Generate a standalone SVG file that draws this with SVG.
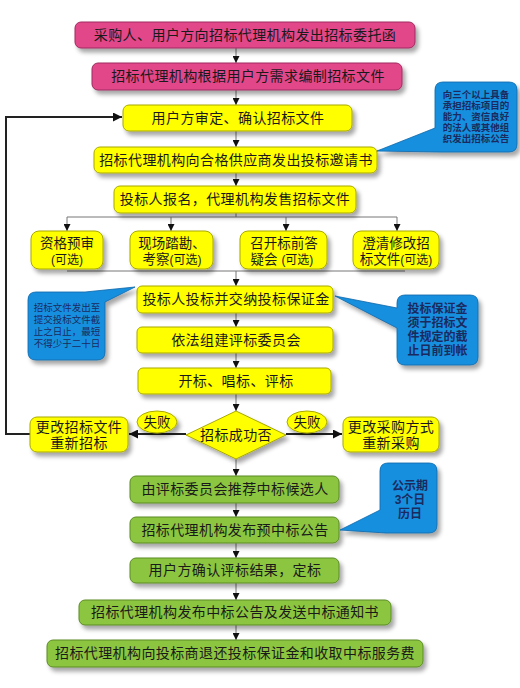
<svg xmlns="http://www.w3.org/2000/svg" width="520" height="688" viewBox="0 0 520 688">
<defs>
<filter id="sh" x="-10%" y="-20%" width="130%" height="160%">
<feDropShadow dx="3" dy="4" stdDeviation="2" flood-color="#000" flood-opacity="0.35"/>
</filter>
<marker id="ah" viewBox="0 0 8 8" refX="8" refY="4" markerWidth="7" markerHeight="7" markerUnits="userSpaceOnUse" orient="auto">
<path d="M0,0 L8,4 L0,8 Z" fill="#111"/>
</marker>
<marker id="ahb" viewBox="0 0 8 8" refX="8" refY="4" markerWidth="9" markerHeight="9" markerUnits="userSpaceOnUse" orient="auto">
<path d="M0,0 L8,4 L0,8 Z" fill="#111"/>
</marker>
</defs>
<style>
text{font-family:"Noto Sans CJK SC","Liberation Sans",sans-serif;fill:#1a1a1a;text-anchor:middle}
text.m{font-family:"Liberation Sans","Noto Sans CJK SC",sans-serif}
.t{font-size:14px;letter-spacing:0.4px}
.ts{font-size:13.5px}
.tp{font-size:12px}
.pink{fill:#E2468A;stroke:#9E2A5E;stroke-width:1}
.yel{fill:#FFFF00;stroke:#A8A800;stroke-width:1}
.grn{fill:#8CC63F;stroke:#5A8A22;stroke-width:1}
.blue{fill:#1690DE;stroke:#0D66A8;stroke-width:0.8}
.ct{fill:#1B2A5E;font-weight:bold}
.cn{fill:#1B2A5E}
.ln{fill:none;stroke:#777;stroke-width:1}
.lk{fill:none;stroke:#222;stroke-width:2}
</style>

<g id="connectors">
<path class="ln" d="M236,48 V63" marker-end="url(#ah)"/>
<path class="ln" d="M236,90 V105" marker-end="url(#ah)"/>
<path class="ln" d="M236,131 V147" marker-end="url(#ah)"/>
<path class="ln" d="M236,173 V186" marker-end="url(#ah)"/>
<path class="ln" d="M236,213 V217 M67,217 H397"/>
<path class="ln" d="M67,217 V231" marker-end="url(#ah)"/>
<path class="ln" d="M171,217 V231" marker-end="url(#ah)"/>
<path class="ln" d="M286,217 V231" marker-end="url(#ah)"/>
<path class="ln" d="M397,217 V231" marker-end="url(#ah)"/>
<path class="ln" d="M67,271 H405"/>
<path class="ln" d="M236,271 V286" marker-end="url(#ah)"/>
<path class="ln" d="M236,313 V327" marker-end="url(#ah)"/>
<path class="ln" d="M236,353 V368" marker-end="url(#ah)"/>
<path class="ln" d="M236,394 V411" marker-end="url(#ah)"/>
<path class="ln" d="M236,458 V476" marker-end="url(#ah)"/>
<path class="ln" d="M236,503 V517" marker-end="url(#ah)"/>
<path class="ln" d="M236,543 V558" marker-end="url(#ah)"/>
<path class="ln" d="M236,583 V600" marker-end="url(#ah)"/>
<path class="ln" d="M236,625 V640" marker-end="url(#ah)"/>
<path class="lk" d="M186,434 H129" marker-end="url(#ahb)"/>
<path class="lk" d="M286,434 H342" marker-end="url(#ahb)"/>
<path class="lk" d="M30,434 H6 V117 H122" marker-end="url(#ahb)"/>
</g>

<g id="n1"><rect class="pink" x="75" y="22" width="340" height="26" rx="6" filter="url(#sh)"/><text class="t" x="245" y="40" letter-spacing="1.2">采购人、用户方向招标代理机构发出招标委托函</text></g>
<g id="n2"><rect class="pink" x="92" y="63" width="310" height="27" rx="6" filter="url(#sh)"/><text class="t" x="248" y="81" letter-spacing="1.4">招标代理机构根据用户方需求编制招标文件</text></g>
<g id="n3"><rect class="yel" x="123" y="105" width="229" height="26" rx="6" filter="url(#sh)"/><text class="t" x="238" y="123">用户方审定、确认招标文件</text></g>
<g id="n4"><rect class="yel" x="94" y="147" width="283" height="26" rx="6" filter="url(#sh)"/><text class="t" x="236" y="165">招标代理机构向合格供应商发出投标邀请书</text></g>
<g id="n5"><rect class="yel" x="114" y="186" width="242" height="27" rx="6" filter="url(#sh)"/><text class="t" x="235" y="204">投标人报名，代理机构发售招标文件</text></g>
<g id="s1"><rect class="yel" x="31" y="231" width="72" height="38" rx="8" filter="url(#sh)"/><text class="ts m"><tspan x="67" y="248">资格预审</tspan><tspan class="tp" x="67" y="264">(可选)</tspan></text></g>
<g id="s2"><rect class="yel" x="130" y="231" width="83" height="38" rx="8" filter="url(#sh)"/><text class="ts m"><tspan x="172" y="248">现场踏勘、</tspan><tspan x="172" y="264">考察<tspan class="tp">(可选)</tspan></tspan></text></g>
<g id="s3"><rect class="yel" x="240" y="231" width="87" height="38" rx="8" filter="url(#sh)"/><text class="ts m"><tspan x="284" y="248">召开标前答</tspan><tspan x="282" y="264">疑会 <tspan class="tp">(可选)</tspan></tspan></text></g>
<g id="s4"><rect class="yel" x="353" y="231" width="86" height="38" rx="8" filter="url(#sh)"/><text class="ts m"><tspan x="396" y="248">澄清修改招</tspan><tspan x="396" y="264">标文件<tspan class="tp">(可选)</tspan></tspan></text></g>
<g id="n6"><rect class="yel" x="137" y="286" width="196" height="27" rx="5" filter="url(#sh)"/><text class="t" x="236" y="304">投标人投标并交纳投标保证金</text></g>
<g id="n7"><rect class="yel" x="137" y="327" width="196" height="26" rx="5" filter="url(#sh)"/><text class="t" x="236" y="345">依法组建评标委员会</text></g>
<g id="n8"><rect class="yel" x="138" y="368" width="193" height="26" rx="5" filter="url(#sh)"/><text class="t" x="236" y="386">开标、唱标、评标</text></g>
<g id="d1"><polygon class="yel" points="236,411 286,435 236,459 186,435" filter="url(#sh)"/><text class="t" x="236" y="440">招标成功否</text></g>
<g id="f1"><ellipse class="yel" cx="157" cy="422" rx="20" ry="11" filter="url(#sh)"/><text class="ts" x="157" y="427">失败</text></g>
<g id="f2"><ellipse class="yel" cx="307" cy="422" rx="20" ry="11" filter="url(#sh)"/><text class="ts" x="307" y="427">失败</text></g>
<g id="nl"><rect class="yel" x="30" y="417" width="98" height="35" rx="7" filter="url(#sh)"/><text class="t m"><tspan x="79" y="431.5">更改招标文件</tspan><tspan x="79" y="447.5">重新招标</tspan></text></g>
<g id="nr"><rect class="yel" x="343" y="417" width="96" height="35" rx="7" filter="url(#sh)"/><text class="t m"><tspan x="391" y="431.5">更改采购方式</tspan><tspan x="391" y="447.5">重新采购</tspan></text></g>
<g id="g1"><rect class="grn" x="130" y="476" width="209" height="27" rx="6" filter="url(#sh)"/><text class="t" x="235" y="494">由评标委员会推荐中标候选人</text></g>
<g id="g2"><rect class="grn" x="130" y="517" width="209" height="26" rx="6" filter="url(#sh)"/><text class="t" x="235" y="535">招标代理机构发布预中标公告</text></g>
<g id="g3"><rect class="grn" x="130" y="558" width="209" height="25" rx="6" filter="url(#sh)"/><text class="t" x="235" y="575">用户方确认评标结果，定标</text></g>
<g id="g4"><rect class="grn" x="79" y="600" width="312" height="25" rx="6" filter="url(#sh)"/><text class="t" x="235" y="617">招标代理机构发布中标公告及发送中标通知书</text></g>
<g id="g5"><rect class="grn" x="47" y="640" width="376" height="27" rx="6" filter="url(#sh)"/><text class="t" x="235" y="658">招标代理机构向投标商退还投标保证金和收取中标服务费</text></g>

<g id="c1"><path class="blue" d="M443,82 H509 Q517,82 517,90 V144 Q517,152 509,152 H441 L377,151 L435,128 V90 Q435,82 443,82 Z" filter="url(#sh)"/>
<text class="ct m" font-size="9.5"><tspan x="476" y="97.5">向三个以上具备</tspan><tspan x="476" y="108.5">承担招标项目的</tspan><tspan x="476" y="119.5">能力、资信良好</tspan><tspan x="476" y="130.5">的法人或其他组</tspan><tspan x="476" y="141.5">织发出招标公告</tspan></text></g>
<g id="c2"><path class="blue" d="M36,292 H85 L135,287 L105,302 V352 Q105,360 97,360 H36 Q28,360 28,352 V300 Q28,292 36,292 Z" filter="url(#sh)"/>
<text class="cn m" font-size="9.5"><tspan x="67" y="311">招标文件发出至</tspan><tspan x="67" y="323">提交投标文件截</tspan><tspan x="67" y="335">止之日止，最短</tspan><tspan x="67" y="347">不得少于二十日</tspan></text></g>
<g id="c3"><path class="blue" d="M405,295 H470 Q478,295 478,303 V357 Q478,365 470,365 H405 Q397,365 397,357 V328 L335,296 L397,308 V303 Q397,295 405,295 Z" filter="url(#sh)"/>
<text class="ct m" font-size="12"><tspan x="437.5" y="313">投标保证金</tspan><tspan x="437.5" y="327">须于招标文</tspan><tspan x="437.5" y="341">件规定的截</tspan><tspan x="437.5" y="355">止日前到帐</tspan></text></g>
<g id="c4"><path class="blue" d="M388,463 H429 Q437,463 437,471 V525 Q437,533 429,533 H386 L340,530 L380,510 V471 Q380,463 388,463 Z" filter="url(#sh)"/>
<text class="ct m" font-size="12"><tspan x="410" y="490">公示期</tspan><tspan x="410" y="504">3个日</tspan><tspan x="410" y="518">历日</tspan></text></g>
</svg>
